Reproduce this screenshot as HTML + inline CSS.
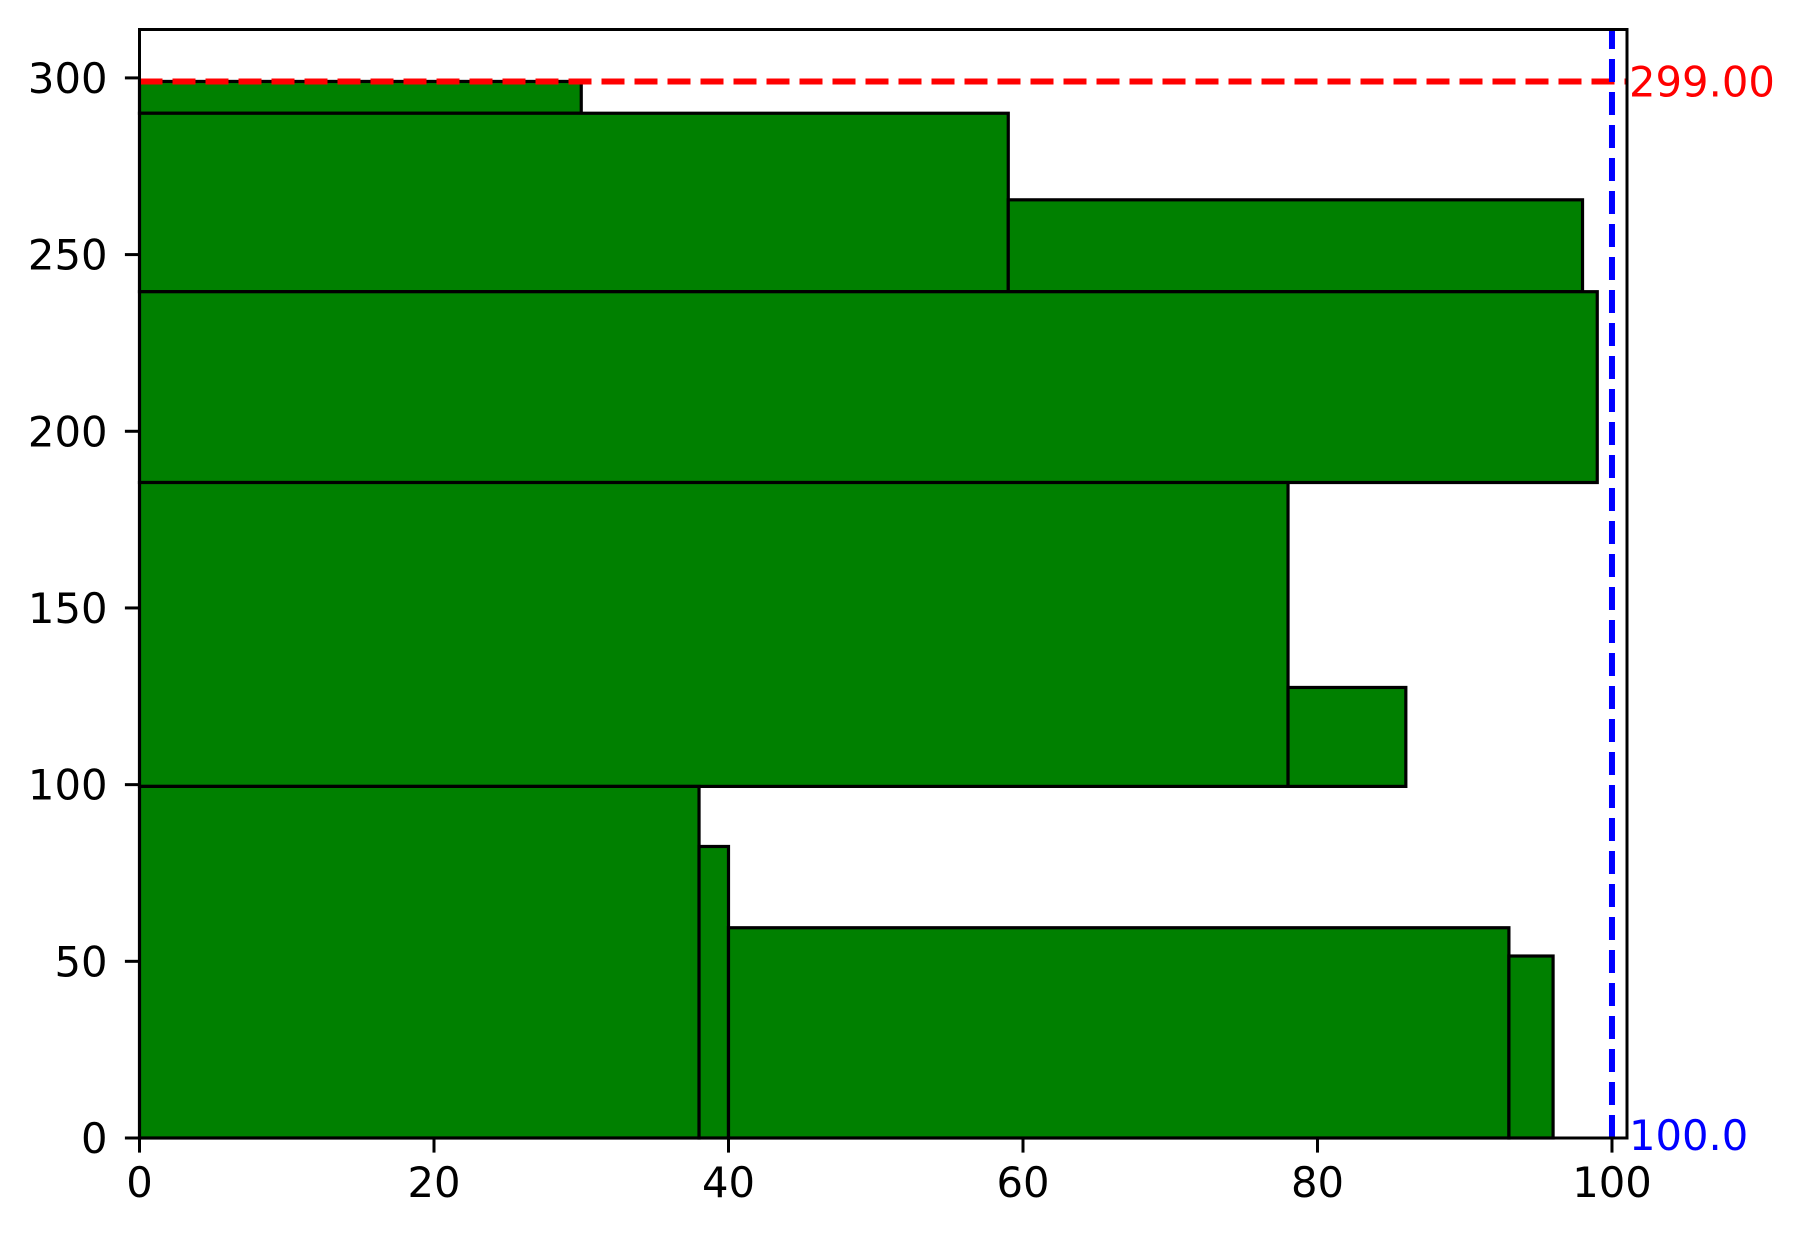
<!DOCTYPE html>
<html><head><meta charset="utf-8"><style>
html,body{margin:0;padding:0;background:#fff;}
svg{display:block;font-family:"DejaVu Sans","Liberation Sans",sans-serif;}
</style></head><body>
<svg id="chart" width="1802" height="1237" viewBox="0 0 1802 1237" xmlns="http://www.w3.org/2000/svg">
<rect x="0" y="0" width="1802" height="1237" fill="#fff"/>
<g id="bars"></g>
<g id="refs"></g>
<g id="axes"></g>
</svg>
<script>
const barLeft   = [0, 0, 59, 0, 0, 78, 0, 38, 40, 93];
const barWidth  = [30, 59, 39, 99, 78, 8, 38, 2, 53, 3];
const barBottom = [290, 239.5, 239.5, 185.5, 99.5, 99.5, 0, 0, 0, 0];
const barHeight = [9, 50.5, 26, 54, 86, 28, 99.5, 82.5, 59.5, 51.5];
const xTicks = [0, 20, 40, 60, 80, 100];
const yTicks = [0, 50, 100, 150, 200, 250, 300];
const hLineValue = 299;
const vLineValue = 100;
const hLineLabel = "299.00";
const vLineLabel = "100.0";

const L = 139.5, R = 1627, T = 29.5, B = 1138;
const xMin = 0, xMax = 101.02, yMin = 0, yMax = 313.7;
const X = v => L + (v - xMin) / (xMax - xMin) * (R - L);
const Y = v => B - (v - yMin) / (yMax - yMin) * (B - T);
const NS = "http://www.w3.org/2000/svg";
function mk(tag, attrs, parent) {
  const e = document.createElementNS(NS, tag);
  for (const k in attrs) e.setAttribute(k, attrs[k]);
  parent.appendChild(e);
  return e;
}
const bars = document.getElementById('bars');
for (let i = 0; i < barLeft.length; i++) {
  const r = mk('rect', {x: X(barLeft[i]), y: Y(barBottom[i] + barHeight[i]),
    width: X(barLeft[i] + barWidth[i]) - X(barLeft[i]),
    height: Y(barBottom[i]) - Y(barBottom[i] + barHeight[i]),
    fill: '#008000', stroke: '#000', 'stroke-width': 3.2}, bars);
  
  
}
const refs = document.getElementById('refs');
const hl = mk('line', {x1: L, x2: R, y1: Y(hLineValue), y2: Y(hLineValue), stroke: '#ff0000', 'stroke-width': 6, 'stroke-dasharray': '23 10'}, refs);


const vl = mk('line', {x1: X(vLineValue), x2: X(vLineValue), y1: B, y2: T, stroke: '#0000ff', 'stroke-width': 6, 'stroke-dasharray': '23 10'}, refs);


const ht = mk('text', {x: R + 2, y: Y(hLineValue) + 15, fill: '#ff0000', 'font-size': 41.7}, refs);
ht.textContent = hLineLabel;


const vt = mk('text', {x: X(vLineValue) + 17, y: B + 12, fill: '#0000ff', 'font-size': 41.7}, refs);
vt.textContent = vLineLabel;



const axes = document.getElementById('axes');
const frame = mk('rect', {x: L, y: T, width: R - L, height: B - T, fill: 'none', stroke: '#000', 'stroke-width': 3}, axes);


xTicks.forEach(v => {
  const t = mk('line', {x1: X(v), x2: X(v), y1: B, y2: B + 14.6, stroke: '#000', 'stroke-width': 3}, axes);
  
  
  const s = mk('text', {x: X(v), y: B + 59, 'font-size': 41.7, 'text-anchor': 'middle', fill: '#000'}, axes);
  s.textContent = v;
  
  
});
yTicks.forEach(v => {
  const t = mk('line', {x1: L - 14.6, x2: L, y1: Y(v), y2: Y(v), stroke: '#000', 'stroke-width': 3}, axes);
  
  
  const s = mk('text', {x: L - 32, y: Y(v) + 15, 'font-size': 41.7, 'text-anchor': 'end', fill: '#000'}, axes);
  s.textContent = v;
  
  
});
</script>
</body></html>
